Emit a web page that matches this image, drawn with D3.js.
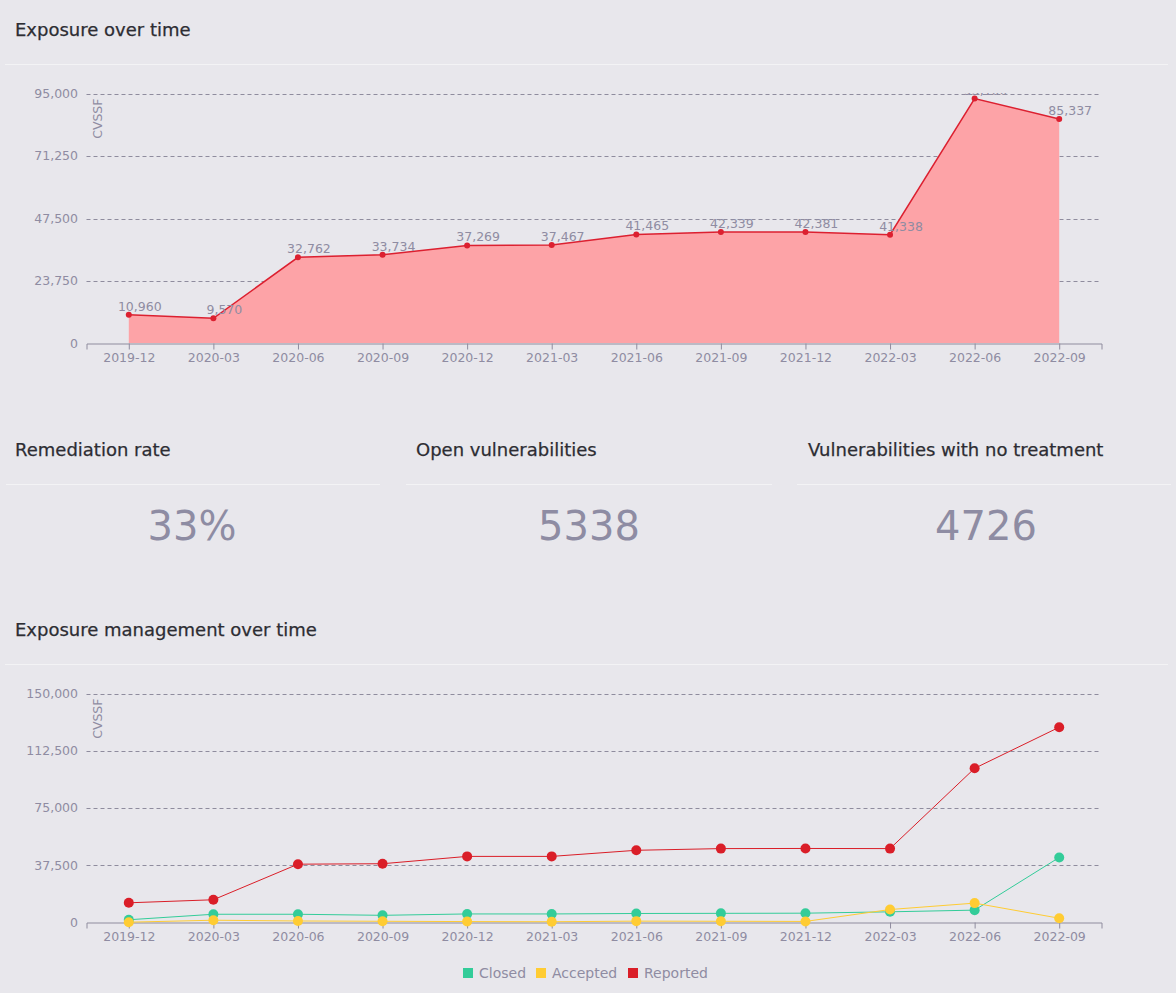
<!DOCTYPE html>
<html>
<head>
<meta charset="utf-8">
<script src="https://cdn.jsdelivr.net/npm/d3@7"></script>
<style>
  html, body { margin: 0; padding: 0; background: #e8e7ec; }
  svg { display: block; font-family: "DejaVu Sans", sans-serif; }
</style>
</head>
<body>
<svg id="chart" width="1176" height="993"></svg>
<script>
// ---- data ----
const periods = ["2019-12","2020-03","2020-06","2020-09","2020-12","2021-03","2021-06","2021-09","2021-12","2022-03","2022-06","2022-09"];
const exposure = [10960, 9570, 32762, 33734, 37269, 37467, 41465, 42339, 42381, 41338, 93100, 85337];
const exposureTicks = [0, 23750, 47500, 71250, 95000];

const closed   = [1800, 5400, 5400, 4700, 5600, 5600, 5900, 6000, 6100, 7000, 8100, 42600];
const accepted = [200, 1500, 1000, 800, 600, 500, 900, 800, 700, 8500, 12700, 2800];
const reported = [12900, 14900, 38200, 38500, 43300, 43300, 47300, 48400, 48500, 48400, 101000, 127900];
const mgmtTicks = [0, 37500, 75000, 112500, 150000];
const seriesNames = ["Closed", "Accepted", "Reported"];
const seriesColors = ["#33cc99", "#ffcc33", "#da1e28"];

const kpiTitles = ["Remediation rate", "Open vulnerabilities", "Vulnerabilities with no treatment"];
const kpiValues = ["33%", "5338", "4726"];

// ---- styles ----
const textDark = "#2d2d33";
const textGray = "#8f8ca2";
const gridColor = "#8f8c9e";
const sepColor = "#f3f3f5";
const fmt = d3.format(",");

const svg = d3.select("#chart");
svg.append("rect").attr("width", 1176).attr("height", 993).attr("fill", "#e8e7ec");

function sectionTitle(text, x, y) {
  svg.append("text").attr("x", x).attr("y", y).attr("fill", textDark)
    .attr("font-size", 18).attr("stroke", textDark).attr("stroke-width", 0.25).text(text);
}
function separator(x1, x2, y) {
  svg.append("line").attr("x1", x1).attr("x2", x2).attr("y1", y).attr("y2", y)
    .attr("stroke", sepColor).attr("stroke-width", 1);
}

function drawAxes(g, x, y, ticks, top, bottom) {
  g.append("g").selectAll("line").data(ticks.filter(t => t > 0)).join("line")
    .attr("x1", x.range()[0]).attr("x2", x.range()[1])
    .attr("y1", d => Math.round(y(d)) + 0.5).attr("y2", d => Math.round(y(d)) + 0.5)
    .attr("stroke", gridColor).attr("stroke-width", 1).attr("stroke-dasharray", "4,3");
  g.append("g").selectAll("text").data(ticks).join("text")
    .attr("x", 78).attr("y", d => y(d)).attr("dy", "0.35em")
    .attr("text-anchor", "end").attr("fill", textGray).attr("font-size", 12.5)
    .text(d => fmt(d));
  const xa = g.append("g").attr("transform", `translate(0,${bottom})`)
    .call(d3.axisBottom(x).tickSize(6).tickSizeOuter(6).tickPadding(4));
  xa.select(".domain").attr("stroke", gridColor);
  xa.selectAll(".tick line").attr("stroke", gridColor);
  xa.selectAll(".tick text").attr("fill", textGray).attr("font-size", 12.5)
    .attr("font-family", "DejaVu Sans, sans-serif");
  g.append("text").attr("transform", `translate(102,${top + 5}) rotate(-90)`)
    .attr("text-anchor", "end").attr("fill", textGray).attr("font-size", 12.5).text("CVSSF");
}

// ================= Chart 1: Exposure over time =================
sectionTitle("Exposure over time", 15, 36);
separator(5, 1168, 64.5);
{
  const top = 93.5, bottom = 343.5;
  const x = d3.scalePoint().domain(periods).range([86.5, 1101.5]).padding(0.5);
  const y = d3.scaleLinear().domain([0, 95000]).range([bottom, top]);
  const g = svg.append("g");
  drawAxes(g, x, y, exposureTicks, top, bottom);

  const data = periods.map((p, i) => ({ p, v: exposure[i] }));
  g.append("path").datum(data)
    .attr("fill", "#fda3a7")
    .attr("d", d3.area().x(d => x(d.p)).y0(y(0) - 0.5).y1(d => y(d.v)));
  g.append("path").datum(data)
    .attr("fill", "none").attr("stroke", "#dc2030").attr("stroke-width", 1.5)
    .attr("d", d3.line().x(d => x(d.p)).y(d => y(d.v)));
  g.append("g").selectAll("circle").data(data).join("circle")
    .attr("cx", d => x(d.p)).attr("cy", d => y(d.v)).attr("r", 3)
    .attr("fill", "#dc2030");

  svg.append("clipPath").attr("id", "clipTop")
    .append("rect").attr("x", 0).attr("y", 93).attr("width", 1176).attr("height", 300);
  g.append("g").attr("clip-path", "url(#clipTop)")
    .selectAll("text").data(data).join("text")
    .attr("x", d => x(d.p) + 11).attr("y", d => y(d.v) - 4)
    .attr("text-anchor", "middle").attr("fill", textGray).attr("font-size", 12.5)
    .text(d => fmt(d.v));
}

// ================= KPI cards =================
const cardX = [15, 416, 808];
const cardSep = [[6, 380], [406, 772], [797, 1171]];
const cardCenter = [192, 589, 986];
kpiTitles.forEach((t, i) => {
  sectionTitle(t, cardX[i], 456);
  separator(cardSep[i][0], cardSep[i][1], 484.5);
  svg.append("text").attr("x", cardCenter[i]).attr("y", 540)
    .attr("text-anchor", "middle").attr("fill", "#8e8ca3").attr("font-size", 40)
    .text(kpiValues[i]);
});

// ================= Chart 2: Exposure management over time =================
sectionTitle("Exposure management over time", 15, 636);
separator(5, 1168, 664.5);
{
  const top = 693.5, bottom = 922.5;
  const x = d3.scalePoint().domain(periods).range([86.5, 1101.5]).padding(0.5);
  const y = d3.scaleLinear().domain([0, 150000]).range([bottom, top]);
  const g = svg.append("g");
  drawAxes(g, x, y, mgmtTicks, top, bottom);

  const all = [closed, accepted, reported];
  all.forEach((vals, si) => {
    const data = periods.map((p, i) => ({ p, v: vals[i] }));
    g.append("path").datum(data)
      .attr("fill", "none").attr("stroke", seriesColors[si]).attr("stroke-width", 1)
      .attr("d", d3.line().x(d => x(d.p)).y(d => y(d.v)));
  });
  all.forEach((vals, si) => {
    const data = periods.map((p, i) => ({ p, v: vals[i] }));
    g.append("g").selectAll("circle").data(data).join("circle")
      .attr("cx", d => x(d.p)).attr("cy", d => y(d.v)).attr("r", 5)
      .attr("fill", seriesColors[si]);
  });

  const legendX = [463, 536, 628];
  const lg = svg.append("g");
  seriesNames.forEach((n, i) => {
    lg.append("rect").attr("x", legendX[i]).attr("y", 968).attr("width", 10).attr("height", 10)
      .attr("fill", seriesColors[i]);
    lg.append("text").attr("x", legendX[i] + 16).attr("y", 978)
      .attr("fill", textGray).attr("font-size", 14).text(n);
  });
}
</script>
</body>
</html>
